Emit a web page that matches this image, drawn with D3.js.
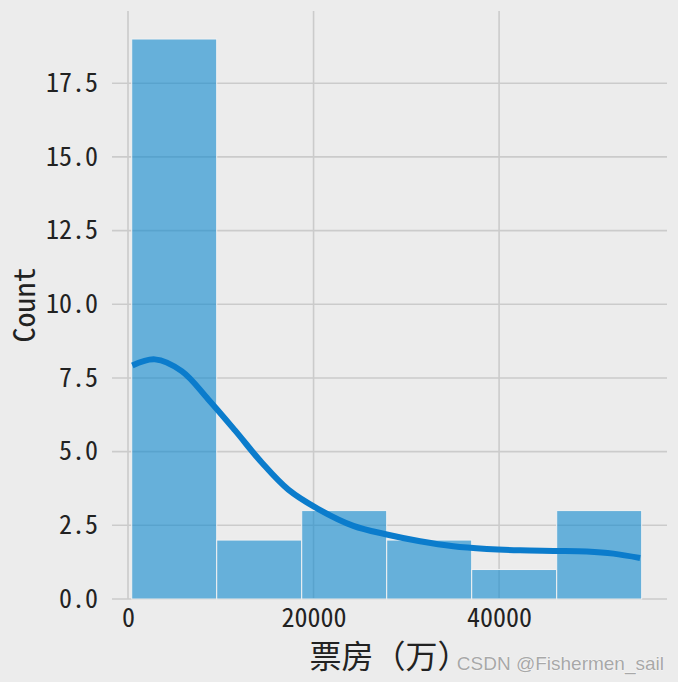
<!DOCTYPE html>
<html>
<head>
<meta charset="utf-8">
<script src="https://cdn.jsdelivr.net/npm/d3@7"></script>
<style>
  html, body { margin: 0; padding: 0; background: #ececec; }
  svg { display: block; }
</style>
</head>
<body>
<svg id="chart" width="678" height="682"></svg>
<script>
// ---- data ----
const binEdges = [399, 9561, 18723, 27885, 37047, 46209, 55371];
const binCounts = [19, 2, 3, 2, 1, 3];
const kdeX = [464, 2900, 5790, 8658, 11537, 14415, 17282, 20518, 24292, 27893, 31483, 35074, 38675, 42265, 45855, 49456, 52324, 55203];
const kdeY = [7.92, 8.13, 7.73, 6.77, 5.72, 4.63, 3.71, 3.05, 2.48, 2.19, 1.96, 1.79, 1.70, 1.65, 1.63, 1.61, 1.54, 1.39];
const xTicks = [0, 20000, 40000];
const yTicks = [0, 2.5, 5, 7.5, 10, 12.5, 15, 17.5];
const xLabel = "票房（万）";
const yLabel = "Count";
const watermark = "CSDN @Fishermen_sail";

const svg = d3.select("#chart");
const W = 678, H = 682;
const plot = { left: 112, right: 667, top: 11, bottom: 599 };

svg.append("rect").attr("width", W).attr("height", H).attr("fill", "#ececec");

const x = d3.scaleLinear().domain([-1725, 58100]).range([plot.left, plot.right]);
const y = d3.scaleLinear().domain([0, 19.95]).range([plot.bottom, plot.top]);

const monoFont = "'Noto Sans Mono CJK SC', 'Noto Sans CJK SC', sans-serif";

// grid
const g = svg.append("g");
g.selectAll("line.hg").data(yTicks).join("line")
  .attr("x1", plot.left).attr("x2", plot.right)
  .attr("y1", d => y(d)).attr("y2", d => y(d))
  .attr("stroke", "#cbcbcb").attr("stroke-width", 1.6);
g.selectAll("line.vg").data(xTicks).join("line")
  .attr("y1", plot.top).attr("y2", plot.bottom)
  .attr("x1", d => x(d)).attr("x2", d => x(d))
  .attr("stroke", "#cbcbcb").attr("stroke-width", 1.6);

// bars
const bins = binCounts.map((c, i) => ({ x0: binEdges[i], x1: binEdges[i + 1], c }));
svg.append("g").selectAll("rect").data(bins).join("rect")
  .attr("x", d => x(d.x0)).attr("width", d => x(d.x1) - x(d.x0))
  .attr("y", d => y(d.c)).attr("height", d => y(0) - y(d.c))
  .attr("fill", "#0e88ce").attr("fill-opacity", 0.6)
  .attr("stroke", "#f2f2f2").attr("stroke-width", 1);

// kde
const line = d3.line().x(d => x(d[0])).y(d => y(d[1])).curve(d3.curveCatmullRom.alpha(0.5));
svg.append("path").datum(kdeX.map((v, i) => [v, kdeY[i]]))
  .attr("d", line).attr("fill", "none")
  .attr("stroke", "#0b7ccc").attr("stroke-width", 6);

// axes (tick labels only)
const xAxis = d3.axisBottom(x).tickValues(xTicks).tickSize(0).tickPadding(10).tickFormat(d3.format("d"));
const xa = svg.append("g").attr("transform", `translate(0,${plot.bottom})`).call(xAxis);
const yAxis = d3.axisLeft(y).tickValues(yTicks).tickSize(0).tickPadding(14).tickFormat(d3.format(".1f"));
const ya = svg.append("g").attr("transform", `translate(${plot.left},0)`).call(yAxis);
[xa, ya].forEach(a => {
  a.select(".domain").remove();
  a.selectAll("text").attr("font-family", monoFont).attr("font-size", 26).attr("fill", "#222");
});

// axis labels
svg.append("text").attr("x", (plot.left + plot.right) / 2).attr("y", 668)
  .attr("text-anchor", "middle").attr("font-family", monoFont).attr("font-size", 32)
  .attr("fill", "#222").text(xLabel);
svg.append("text").attr("transform", `translate(35,${(plot.top + plot.bottom) / 2}) rotate(-90)`)
  .attr("text-anchor", "middle").attr("font-family", monoFont).attr("font-size", 30)
  .attr("fill", "#222").text(yLabel);

// watermark
svg.append("text").attr("x", 664).attr("y", 670).attr("text-anchor", "end")
  .attr("font-family", "'Liberation Sans', Arial, sans-serif").attr("font-size", 19)
  .attr("fill", "#a8a8a8").attr("stroke", "#ffffff").attr("stroke-width", 0.6)
  .attr("paint-order", "stroke").text(watermark);
</script>
</body>
</html>
